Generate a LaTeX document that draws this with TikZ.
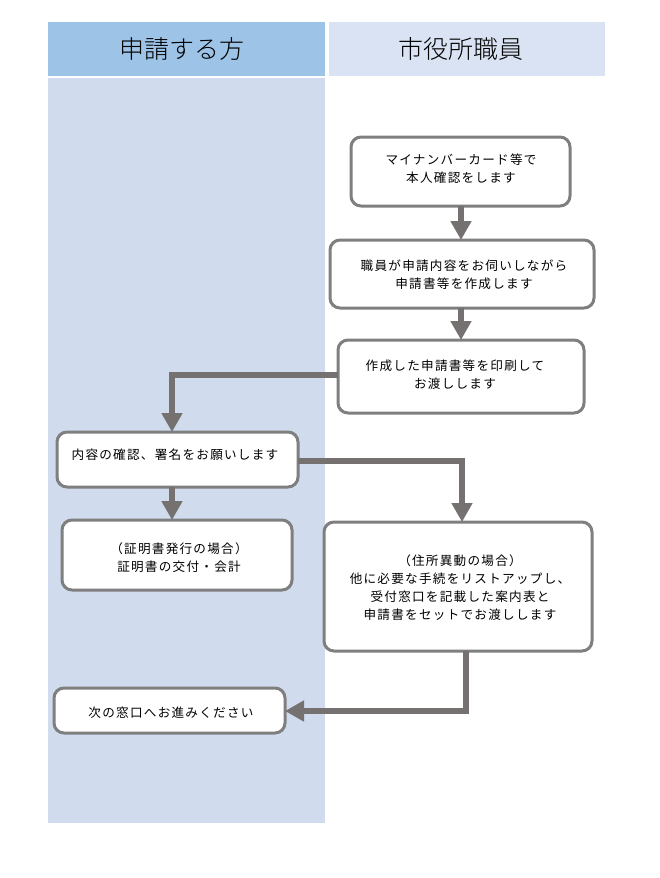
\documentclass[tikz,border=0pt]{standalone}
\usepackage{fontspec}
\usetikzlibrary{arrows.meta}
\newfontfamily\jp[LetterSpace=10]{Noto Sans CJK JP}
\newfontfamily\jphead{Noto Sans CJK JP Light}
\definecolor{headL}{HTML}{9DC3E6}
\definecolor{bodyL}{HTML}{D0DCEE}
\definecolor{headR}{HTML}{DAE3F3}
\definecolor{boxline}{HTML}{7F7F7F}
\definecolor{arrowc}{HTML}{767171}
\tikzset{
  stepbox/.style={draw=boxline, line width=3pt, fill=white, rounded corners=10pt, inner sep=0pt},
  boxtext/.style={font=\jp\fontsize{12.6}{18}\selectfont, align=center, inner sep=0pt},
  headtext/.style={font=\jphead\fontsize{25}{28}\selectfont, inner sep=0pt},
  flow/.style={draw=arrowc, line width=6pt, -{Triangle[length=19pt,width=20pt]}},
}
\begin{document}
\begin{tikzpicture}[x=1pt,y=-1pt]
\useasboundingbox (0,0) rectangle (659,878);
% lanes
\fill[headL] (48,22) rectangle (325,76);
\fill[bodyL] (48,78) rectangle (325,823);
\fill[headR] (329,22) rectangle (605,76);
\node[headtext] (hl) at (182,49) {申請する方};
\node[headtext] (hr) at (461,49) {市役所職員};
% boxes
\draw[stepbox] (351,137) rectangle (570,206);
\node[boxtext] (t1) at (461,169) {マイナンバーカード等で\\本人確認をします};
\coordinate (b1) at (461,206);
\draw[stepbox] (330,240) rectangle (594,308);
\node[boxtext] (t2) at (464,275) {職員が申請内容をお伺いしながら\\申請書等を作成します};
\coordinate (b2t) at (461,240);
\coordinate (b2) at (461,308);
\draw[stepbox] (338,340) rectangle (584,413);
\node[boxtext] (t3) at (455,375) {作成した申請書等を印刷して\\お渡しします};
\coordinate (b3t) at (461,340);
\coordinate (b3l) at (338,375);
\draw[stepbox] (57,432) rectangle (298,487);
\node[boxtext] (t4) at (175,455) {内容の確認、署名をお願いします};
\coordinate (b4t) at (172,432);
\coordinate (b4b) at (172,487);
\coordinate (b4r) at (298,461);
\draw[stepbox] (62,520) rectangle (292,590);
\node[boxtext] (t5) at (179,558) {（証明書発行の場合）\\証明書の交付・会計};
\coordinate (b5t) at (172,520);
\draw[stepbox] (324,522) rectangle (592,651);
\node[boxtext] (t6) at (460,588) {（住所異動の場合）\\他に必要な手続をリストアップし、\\受付窓口を記載した案内表と\\申請書をセットでお渡しします};
\coordinate (b6t) at (462,522);
\coordinate (b6b) at (466,651);
\draw[stepbox] (54,688) rectangle (285,733);
\node[boxtext] (t7) at (171,713) {次の窓口へお進みください};
\coordinate (b7r) at (285,711);
% connectors
\draw[flow] (b1) -- (b2t);
\draw[flow] (b2) -- (b3t);
\draw[flow] (b3l) -- (172,375) -- (b4t);
\draw[flow] (b4b) -- (b5t);
\draw[flow] (b4r) -- (462,461) -- (b6t);
\draw[flow] (b6b) -- (466,711) -- (b7r);
\end{tikzpicture}
\end{document}
